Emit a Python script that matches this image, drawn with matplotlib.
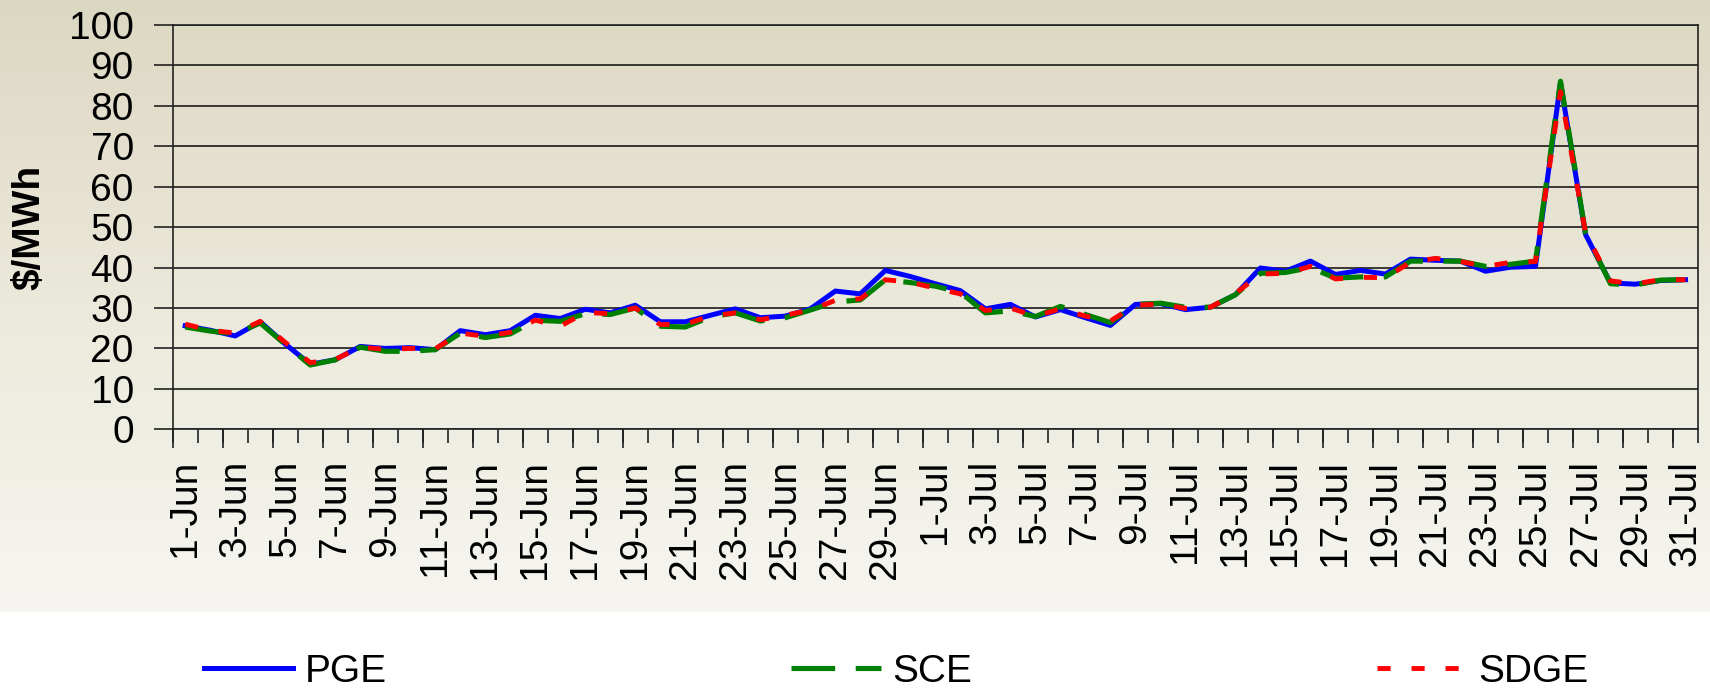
import numpy as np
import matplotlib
matplotlib.use('Agg')
import matplotlib.pyplot as plt
from matplotlib.colors import LinearSegmentedColormap

plt.rcParams['font.family'] = ['Liberation Sans', 'DejaVu Sans']

# daily categories, Jun 1 .. Jul 31
days = [f"{d}-Jun" for d in range(1, 31)] + [f"{d}-Jul" for d in range(1, 32)]

pge = [25.6, 24.5, 23.1, 26.6, 21.1, 16.1, 17.2, 20.5, 20.0, 20.2,
       19.7, 24.4, 23.4, 24.4, 28.2, 27.4, 29.7, 28.8, 30.7, 26.6,
       26.6, 28.2, 29.8, 27.6, 28.0, 29.8, 34.2, 33.5, 39.3, 37.8,
       36.0, 34.3, 29.8, 30.9, 27.8, 29.6, 27.6, 25.7, 30.9, 31.1,
       29.6, 30.2, 33.3, 39.9, 39.1, 41.6, 38.3, 39.3, 38.4, 42.1,
       41.8, 41.6, 39.1, 40.1, 40.3, 85.7, 48.2, 36.2, 35.9, 36.8, 37.0]
sce = [25.3, 24.3, 23.6, 26.3, 21.0, 15.9, 17.2, 20.3, 19.3, 19.3,
       19.7, 23.8, 22.7, 23.6, 27.0, 26.7, 28.6, 28.4, 30.0, 25.5,
       25.3, 27.8, 28.8, 26.8, 27.6, 29.5, 31.5, 32.0, 37.0, 36.3,
       35.4, 33.9, 28.8, 29.3, 27.9, 30.4, 28.4, 26.4, 30.9, 31.2,
       30.2, 30.2, 33.3, 38.6, 38.8, 40.0, 37.4, 37.7, 37.7, 41.6,
       41.6, 41.6, 40.3, 40.8, 41.6, 86.1, 48.6, 36.0, 35.7, 36.9, 37.0]
sdge = [26.0, 24.5, 23.8, 26.7, 21.5, 16.5, 17.3, 20.3, 19.8, 20.0,
        19.9, 23.8, 23.0, 24.0, 27.0, 25.5, 28.9, 28.6, 30.0, 25.9,
        26.0, 28.0, 28.8, 27.1, 28.2, 29.5, 31.9, 32.3, 37.0, 36.4,
        34.9, 33.5, 29.4, 30.0, 28.0, 29.8, 28.0, 26.8, 30.7, 31.0,
        29.9, 30.2, 33.6, 38.4, 38.6, 40.3, 37.2, 37.6, 37.5, 41.3,
        42.3, 41.5, 40.3, 41.3, 41.5, 83.5, 48.6, 36.7, 36.0, 37.0, 37.0]

fig = plt.figure(figsize=(17.1, 6.91), dpi=100)
fig.patch.set_facecolor('white')

# gradient backdrop over the upper part of the figure
bg = fig.add_axes([0, 0, 1, 1], zorder=-10)
cmap = LinearSegmentedColormap.from_list('bg', [(0.0, '#dbd8c2'), (0.18, '#e3ddcb'),
                                                 (0.55, '#ecebdd'), (1.0, '#f6f5f1')])
grad = np.linspace(0, 1, 256).reshape(-1, 1)
bg.imshow(grad, cmap=cmap, aspect='auto', extent=[0, 1, 1 - 612 / 691, 1], origin='upper')
bg.set_xlim(0, 1)
bg.set_ylim(0, 1)
bg.axis('off')

ax = fig.add_axes([0.101, 0.3787, 0.892, 0.5851])
ax.set_facecolor('none')
x = np.arange(len(days))

ax.plot(x, pge, color='#0000ff', lw=3.6, label='PGE', solid_joinstyle='round', zorder=3)
ax.plot(x, sce, color='#008000', lw=3.7, dashes=(8.5, 4), label='SCE', zorder=4)
ax.plot(x, sdge, color='#ff0000', lw=3.5, dashes=(2.7, 4.3), label='SDGE', zorder=5)

ax.set_xlim(-0.5, len(days) - 0.5)
ax.set_ylim(0, 100)
ax.set_yticks(range(0, 101, 10))
ax.yaxis.grid(True, color='#1a1a1a', lw=1.2)
ax.set_axisbelow(True)

ax.set_xticks(x[::2])
ax.set_xticklabels(days[::2], rotation=90, fontsize=28)
ax.set_xticks(np.arange(-0.5, len(days), 1), minor=True)
ax.tick_params(axis='x', which='major', length=0, pad=22)
ax.tick_params(axis='x', which='minor', length=10, width=1.2, color='#222222')
ax.tick_params(axis='y', length=14, width=1.2, color='#222222', labelsize=28, pad=14)

sec = ax.secondary_xaxis('bottom')
sec.set_xticks(np.arange(-0.5, len(days) + 0.5, 2))
sec.tick_params(length=14, width=1.2, color='#222222', labelbottom=False)
sec.spines['bottom'].set_visible(False)

for s in ax.spines.values():
    s.set_color('#222222')
    s.set_linewidth(1.2)

ax.set_ylabel('$/MWh', fontsize=28, fontweight='bold')
ax.yaxis.set_label_coords(-0.082, 0.5)

fig.legend(loc='center', bbox_to_anchor=(0.524, 0.028), ncol=3, frameon=False,
           fontsize=28, handlelength=2.3, handletextpad=0.3, columnspacing=10.4)

fig.savefig('out.png', dpi=100)
